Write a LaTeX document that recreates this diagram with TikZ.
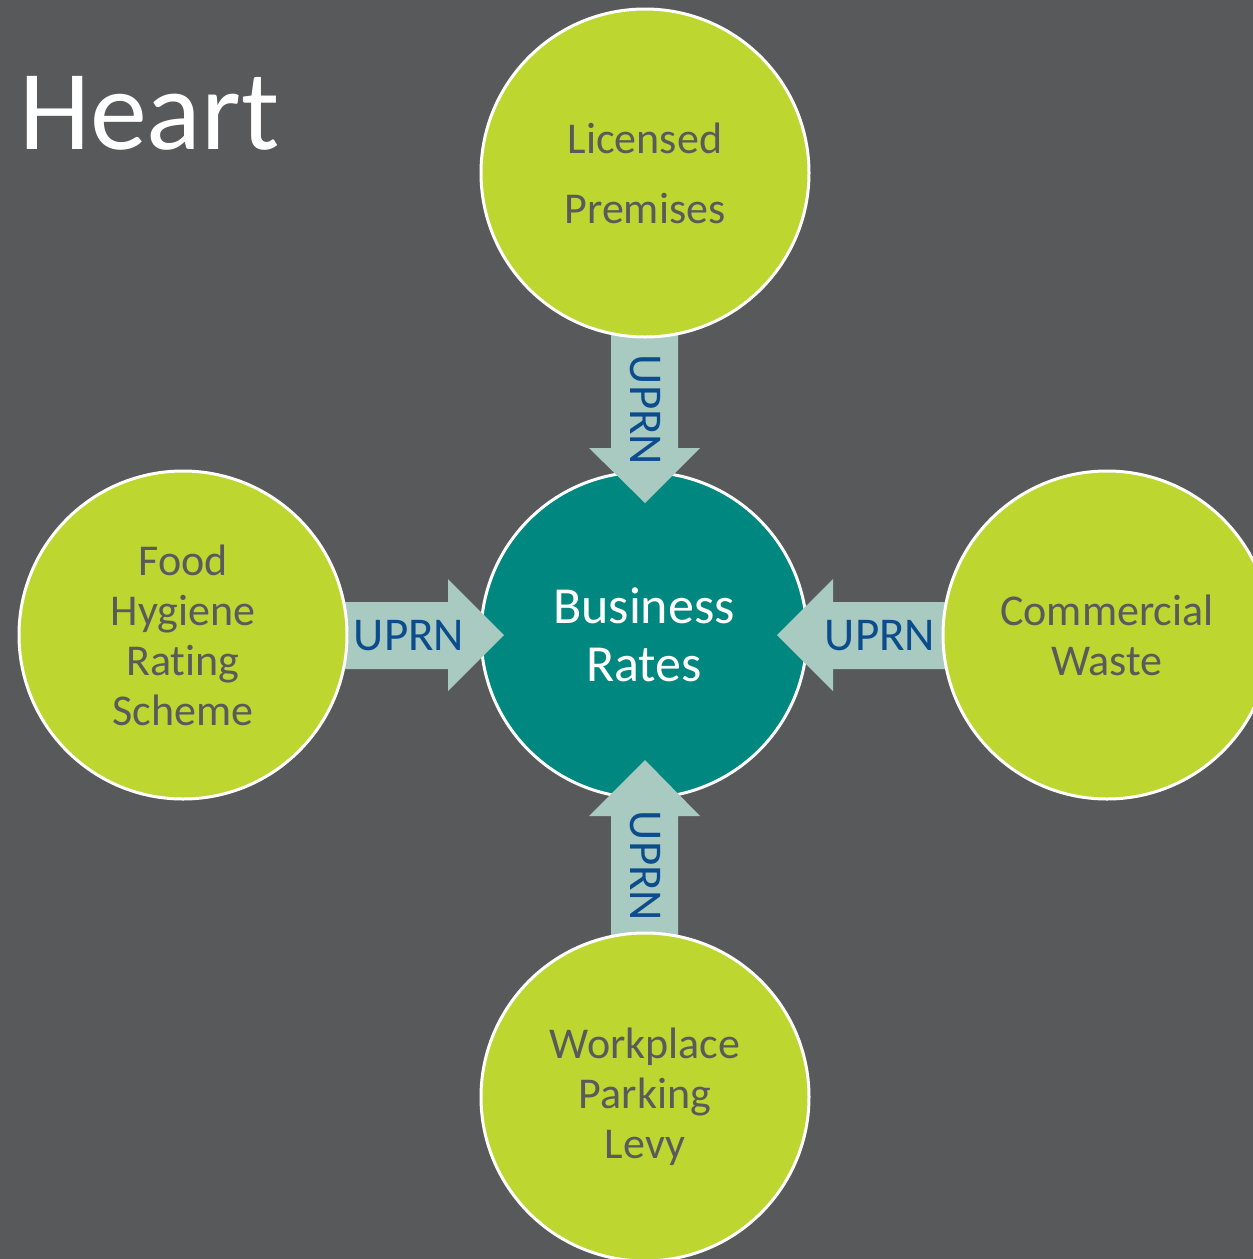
\documentclass[tikz,border=0pt]{standalone}
\usepackage{fontspec}
\setmainfont{Carlito}[Ligatures={NoCommon}]
\definecolor{bgc}{HTML}{58595B}
\definecolor{limec}{HTML}{BDD630}
\definecolor{tealc}{HTML}{00877F}
\definecolor{arrowc}{HTML}{A8CAC0}
\definecolor{uprnc}{HTML}{0B4C8C}
\definecolor{gtext}{HTML}{595A5C}
\begin{document}
\begin{tikzpicture}[x=1pt,y=-1pt,
  outer/.style={circle, fill=limec, draw=white, line width=3pt, minimum size=328pt, inner sep=0pt, text=gtext, align=center, font=\fontsize{44}{50}\selectfont},
  hub/.style={circle, fill=tealc, draw=white, line width=3pt, minimum size=326pt, inner sep=0pt, text=white, align=center, font=\fontsize{52}{58}\selectfont},
  uprnarrow/.style={fill=arrowc},
  uprn/.style={text=uprnc, inner sep=0pt, font=\fontsize{47}{50}\selectfont}]
\useasboundingbox (0,0) rectangle (1253,1259);
\clip (0,0) rectangle (1253,1259);
\fill[bgc] (0,0) rectangle (1253,1259);
\node[anchor=base west, inner sep=0pt, text=white, font=\fontsize{114}{120}\selectfont] (title) at (19,149) {Heart};
\node[hub] (br) at (644,635) {Business\\Rates};
% arrows
\path[uprnarrow] (611,300) -- (678,300) -- (678,448) -- (700,448) -- (645,503) -- (589,448) -- (611,448) -- cycle;
\path[uprnarrow] (611,970) -- (678,970) -- (678,816) -- (700,816) -- (645,760) -- (589,816) -- (611,816) -- cycle;
\path[uprnarrow] (320,602) -- (448,602) -- (448,579) -- (504,635) -- (448,691) -- (448,669) -- (320,669) -- cycle;
\path[uprnarrow] (970,602) -- (833,602) -- (833,579) -- (777,635) -- (833,691) -- (833,669) -- (970,669) -- cycle;
% outer circles
\node[outer] (lic) at (645,173) {Licensed\\[20pt]Premises};
\node[outer] (food) at (183,635) {Food\\Hygiene\\Rating\\Scheme};
\node[outer] (cw) at (1107,635) {Commercial\\Waste};
\node[outer] (wpl) at (645,1097) {Workplace\\Parking\\Levy};
% labels
\node[uprn, rotate=-90] (u1) at (645,410) {UPRN};
\node[uprn, rotate=-90] (u2) at (645,866) {UPRN};
\node[uprn] (u3) at (409,636) {UPRN};
\node[uprn] (u4) at (880,636) {UPRN};
\end{tikzpicture}
\end{document}
